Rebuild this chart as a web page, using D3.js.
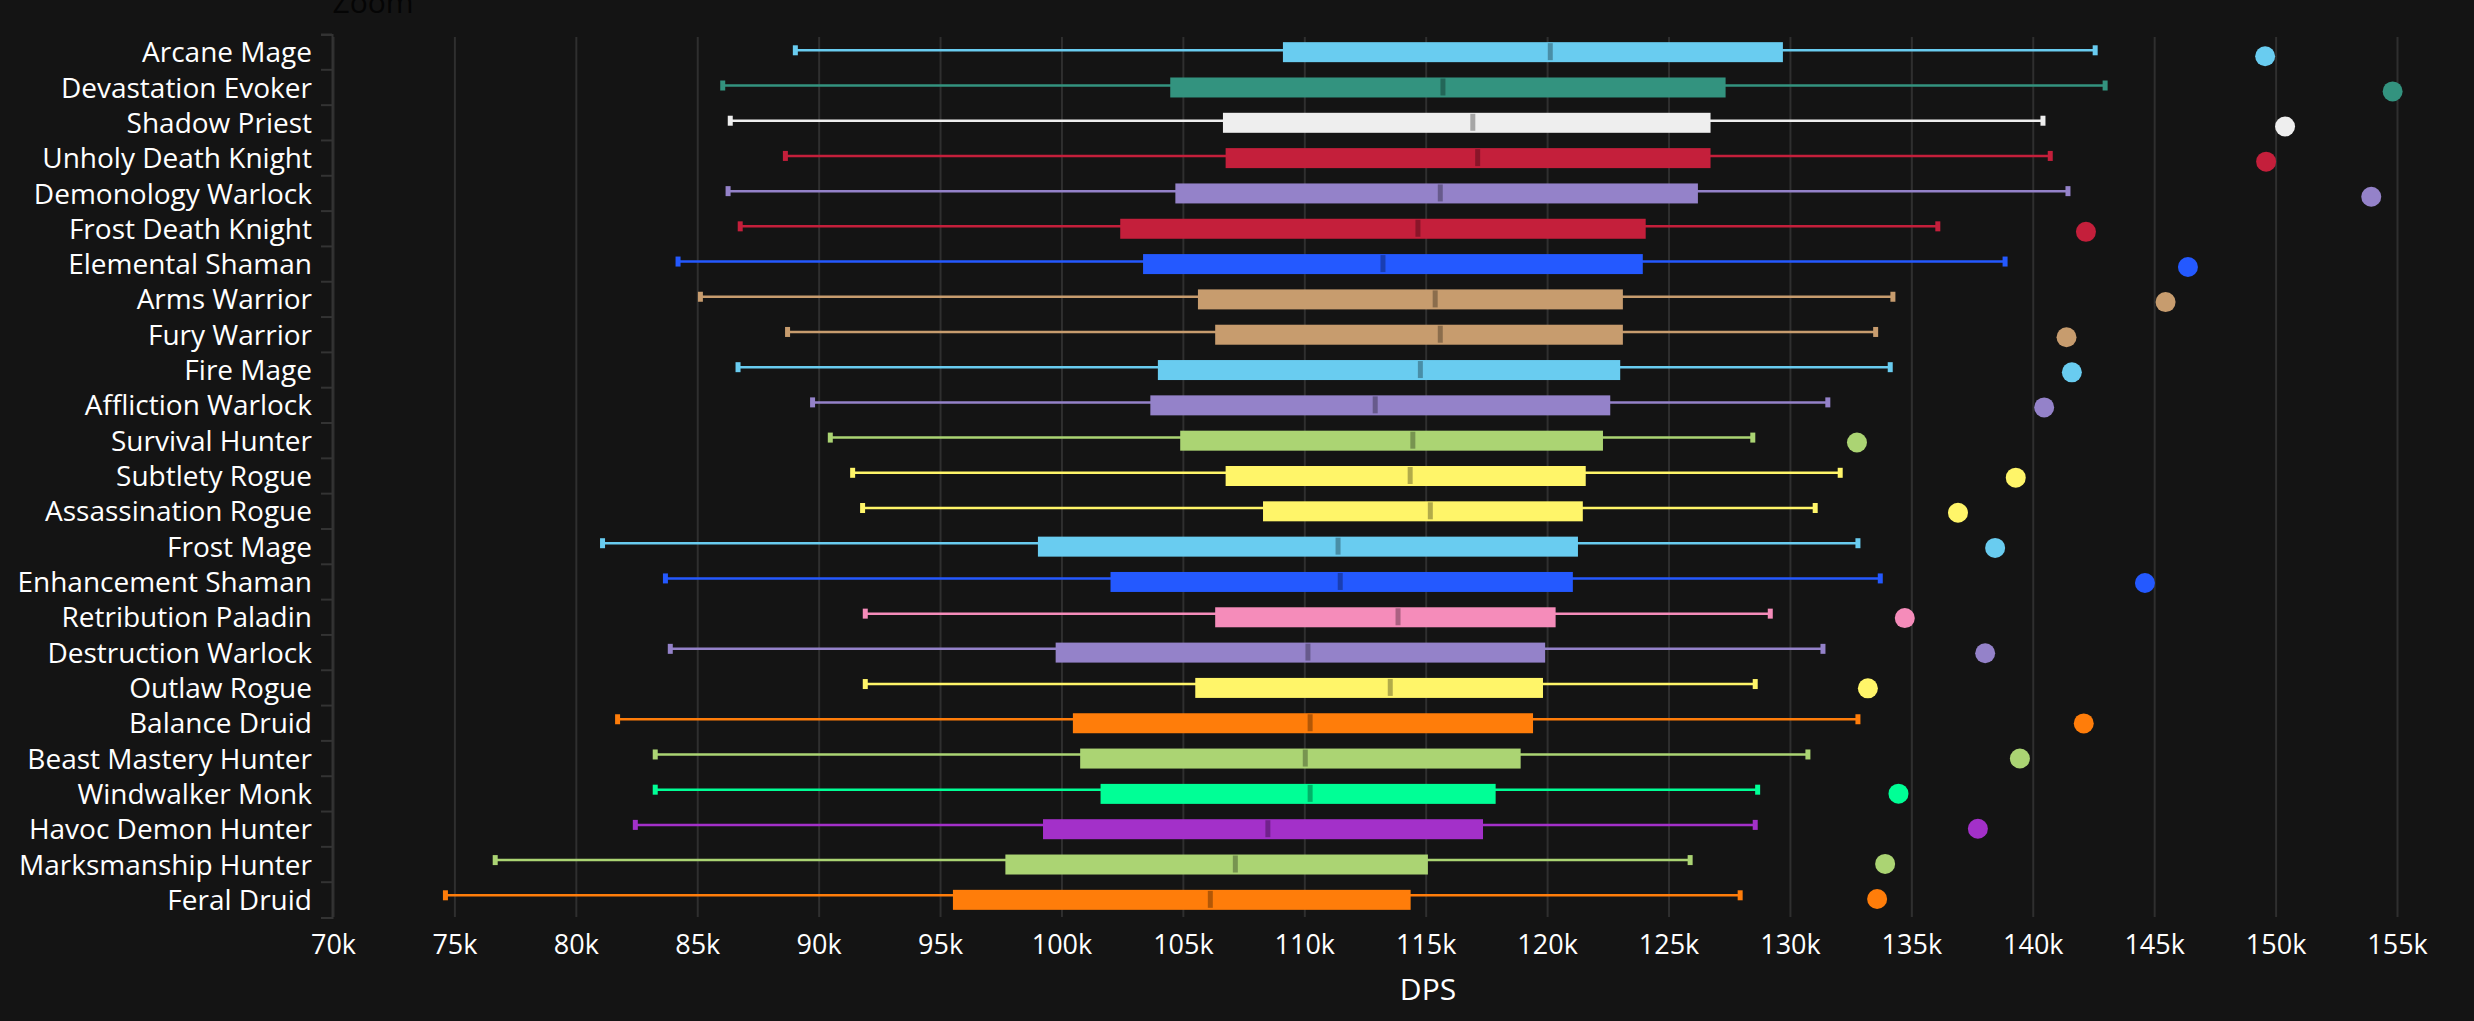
<!DOCTYPE html>
<html>
<head>
<meta charset="utf-8">
<style>
  html, body { margin: 0; padding: 0; background: #141414; overflow: hidden; }
  text { font-family: "Open Sans", sans-serif; }
</style>
<script src="https://cdn.jsdelivr.net/npm/d3@7"></script>
</head>
<body>
<svg id="chart" width="2474" height="1021"></svg>
<script>
const specs = ['Arcane Mage', 'Devastation Evoker', 'Shadow Priest', 'Unholy Death Knight', 'Demonology Warlock',
  'Frost Death Knight', 'Elemental Shaman', 'Arms Warrior', 'Fury Warrior', 'Fire Mage', 'Affliction Warlock',
  'Survival Hunter', 'Subtlety Rogue', 'Assassination Rogue', 'Frost Mage', 'Enhancement Shaman',
  'Retribution Paladin', 'Destruction Warlock', 'Outlaw Rogue', 'Balance Druid', 'Beast Mastery Hunter',
  'Windwalker Monk', 'Havoc Demon Hunter', 'Marksmanship Hunter', 'Feral Druid'];

const colors = ['#69CCF0', '#33937F', '#EEEEEE', '#C41F3B', '#9482C9',
  '#C41F3B', '#2459FF', '#C79C6E', '#C79C6E', '#69CCF0', '#9482C9',
  '#ABD473', '#FFF569', '#FFF569', '#69CCF0', '#2459FF',
  '#F58CBA', '#9482C9', '#FFF569', '#FF7D0A', '#ABD473',
  '#00FF96', '#A330C9', '#ABD473', '#FF7D0A'];

const low = [89040, 86050, 86360, 88630, 86270, 86770, 84210, 85130, 88720, 86680, 89750, 90480, 91400,
  91810, 81100, 83690, 91920, 83890, 91920, 81720, 83270, 83270, 82450, 76680, 74630];
const q1 = [109120, 104480, 106650, 106760, 104690, 102420, 103360, 105620, 106330, 103970, 103660, 104890, 106760,
  108300, 99030, 102020, 106330, 99760, 105510, 100470, 100770, 101610, 99240, 97690, 95530];
const median = [120130, 115710, 116940, 117140, 115600, 114680, 113240, 115390, 115600, 114780, 112920, 114470, 114360,
  115190, 111390, 111480, 113860, 110150, 113540, 110240, 110040, 110240, 108500, 107160, 106130];
const q3 = [129710, 127350, 126730, 126730, 126210, 124060, 123940, 123120, 123120, 123010, 122600, 122300, 121590,
  121470, 121270, 121060, 120350, 119920, 119830, 119420, 118910, 117880, 117360, 115090, 114380];
const high = [142570, 142980, 140420, 140720, 141450, 136090, 138860, 134240, 133530, 134130, 131560, 128470, 132070,
  131040, 132800, 133720, 129190, 131360, 128570, 132800, 130740, 128670, 128570, 125890, 127950];
const top5 = [149570, 154820, 150390, 149610, 153940, 142190, 146390, 145470, 141390, 141610, 140470, 132760, 139300,
  136920, 138450, 144620, 134730, 138040, 133210, 142100, 139470, 134470, 137740, 133920, 133590];

const xTicks = [70000, 75000, 80000, 85000, 90000, 95000, 100000, 105000, 110000, 115000, 120000, 125000, 130000,
  135000, 140000, 145000, 150000, 155000];

const gridColor = '#2f2f2f';
const textColor = '#ffffff';

const svg = d3.select('#chart');

const x = d3.scaleLinear().domain([70000, 155000]).range([333, 2397]);
const y = d3.scaleBand().domain(specs).range([34.5, 917.5]);
// whiskers and dots do not sit quite on the band centre in the picture
const yWhisker = d3.scalePoint().domain(specs).range([50.3, 895.3]);
const yDot = d3.scalePoint().domain(specs).range([56.3, 899]);

const rows = specs.map((name, i) => ({
  name, color: colors[i], low: low[i], q1: q1[i], median: median[i], q3: q3[i], high: high[i], top: top5[i]
}));

// x axis, ticks double as the grid
const xAxis = svg.append('g')
  .attr('transform', 'translate(0,917)')
  .call(d3.axisBottom(x).tickValues(xTicks).tickFormat(d => (d / 1000) + 'k').tickSize(-880).tickPadding(14));
xAxis.select('.domain').remove();
xAxis.selectAll('.tick line').attr('stroke', gridColor).attr('stroke-width', 2);
xAxis.selectAll('.tick text').attr('fill', textColor).style('font-size', '27px').attr('y', 15).attr('dy', '0.8em');

// y axis, ticks sit on the band edges
const yAxis = svg.append('g')
  .attr('transform', 'translate(332,0)')
  .call(d3.axisLeft(y).tickSize(11).tickSizeOuter(11).tickPadding(9));
yAxis.select('.domain').attr('stroke', '#333333').attr('stroke-width', 2).attr('fill', 'none');
yAxis.selectAll('.tick line')
  .attr('stroke', '#333333').attr('stroke-width', 2)
  .attr('y1', -y.bandwidth() / 2).attr('y2', -y.bandwidth() / 2);
yAxis.selectAll('.tick text').attr('fill', textColor).style('font-size', '28px').attr('dy', '0.36em');

svg.append('text')
  .attr('x', 1428).attr('y', 1000)
  .attr('text-anchor', 'middle')
  .attr('fill', textColor)
  .style('font-size', '30px')
  .style('font-weight', 500)
  .text('DPS');

// leftover title, almost invisible and cut by the top edge
svg.append('text')
  .attr('x', 373).attr('y', 13)
  .attr('text-anchor', 'middle')
  .attr('fill', '#050505')
  .style('font-size', '30px')
  .text('Zoom');

const group = svg.selectAll('.spec').data(rows).join('g').attr('class', 'spec');

// whisker line
group.append('line')
  .attr('x1', d => x(d.low)).attr('x2', d => x(d.high))
  .attr('y1', d => yWhisker(d.name)).attr('y2', d => yWhisker(d.name))
  .attr('stroke', d => d.color).attr('stroke-width', 2.5);

// whisker caps
group.selectAll('.cap').data(d => [d.low, d.high].map(v => ({ v, d }))).join('rect')
  .attr('class', 'cap')
  .attr('x', c => x(c.v) - 2.5).attr('width', 5)
  .attr('y', c => yWhisker(c.d.name) - 5).attr('height', 10)
  .attr('fill', c => c.d.color);

// box
group.append('rect')
  .attr('x', d => x(d.q1)).attr('width', d => x(d.q3) - x(d.q1))
  .attr('y', d => y(d.name) + y.bandwidth() / 2 - 10).attr('height', 20)
  .attr('fill', d => d.color);

// median tick
group.append('rect')
  .attr('x', d => x(d.median) - 2.5).attr('width', 5)
  .attr('y', d => y(d.name) + y.bandwidth() / 2 - 9).attr('height', 17)
  .attr('fill', '#000000').attr('fill-opacity', 0.3);

// top dot
group.append('circle')
  .attr('cx', d => x(d.top)).attr('cy', d => yDot(d.name)).attr('r', 10)
  .attr('fill', d => d.color);
</script>
</body>
</html>
